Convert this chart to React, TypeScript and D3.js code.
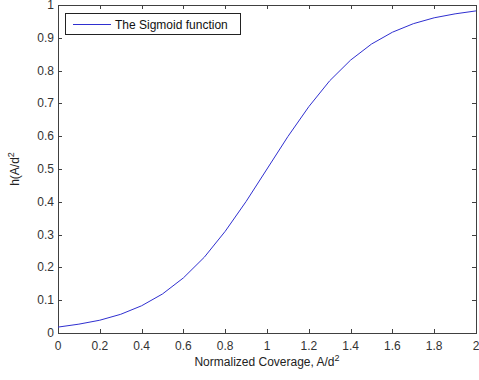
import { useEffect, useRef } from "react";
import * as d3 from "d3";

// values at 0.1 steps
const coverage = [0, 0.1, 0.2, 0.3, 0.4, 0.5, 0.6, 0.7, 0.8, 0.9, 1.0, 1.1, 1.2, 1.3, 1.4, 1.5, 1.6, 1.7, 1.8, 1.9, 2.0];
const hValues = [0.018, 0.027, 0.039, 0.057, 0.083, 0.119, 0.168, 0.231, 0.31, 0.401, 0.5, 0.599, 0.69, 0.769, 0.832, 0.881, 0.917, 0.943, 0.961, 0.973, 0.982];
const xTicks = [0, 0.2, 0.4, 0.6, 0.8, 1, 1.2, 1.4, 1.6, 1.8, 2];
const yTicks = [0, 0.1, 0.2, 0.3, 0.4, 0.5, 0.6, 0.7, 0.8, 0.9, 1];
const legendLabel = "The Sigmoid function";

function App() {
  const svgRef = useRef<SVGSVGElement>(null);

  useEffect(() => {
    document.body.style.margin = "0";
    const width = 479;
    const height = 380;
    const left = 58;
    const right = 476;
    const top = 5;
    const bottom = 333;
    const font = "'Liberation Sans', Arial, sans-serif";
    const lineColor = "#2f2fd0";
    const axisColor = "#404040";

    const svg = d3.select(svgRef.current);
    svg.selectAll("*").remove();
    svg.attr("width", width).attr("height", height).style("display", "block");

    svg.append("rect").attr("width", width).attr("height", height).attr("fill", "#fff");

    const x = d3.scaleLinear().domain([0, 2]).range([left, right]);
    const y = d3.scaleLinear().domain([0, 1]).range([bottom, top]);

    // box
    svg
      .append("rect")
      .attr("x", left + 0.5)
      .attr("y", top + 0.5)
      .attr("width", right - left)
      .attr("height", bottom - top)
      .attr("fill", "none")
      .attr("stroke", axisColor)
      .attr("stroke-width", 1);

    const tickLen = 4;
    const ticks = svg.append("g").attr("stroke", axisColor).attr("stroke-width", 1);
    xTicks.forEach((t) => {
      const px = Math.round(x(t)) + 0.5;
      ticks.append("line").attr("x1", px).attr("x2", px).attr("y1", bottom).attr("y2", bottom - tickLen);
      ticks.append("line").attr("x1", px).attr("x2", px).attr("y1", top).attr("y2", top + tickLen);
    });
    yTicks.forEach((t) => {
      const py = Math.round(y(t)) + 0.5;
      ticks.append("line").attr("x1", left).attr("x2", left + tickLen).attr("y1", py).attr("y2", py);
      ticks.append("line").attr("x1", right).attr("x2", right - tickLen).attr("y1", py).attr("y2", py);
    });

    svg
      .append("g")
      .selectAll("text")
      .data(xTicks)
      .join("text")
      .attr("x", (d) => x(d))
      .attr("y", bottom + 17)
      .attr("text-anchor", "middle")
      .attr("font-family", font)
      .attr("font-size", 12)
      .attr("fill", "#333")
      .text((d) => String(d));

    svg
      .append("g")
      .selectAll("text")
      .data(yTicks)
      .join("text")
      .attr("x", left - 4)
      .attr("y", (d) => y(d) + 4)
      .attr("text-anchor", "end")
      .attr("font-family", font)
      .attr("font-size", 12)
      .attr("fill", "#333")
      .text((d) => String(d));

    // curve
    const pts: [number, number][] = coverage.map((c, i) => [x(c), y(hValues[i])]);
    svg
      .append("path")
      .attr("d", d3.line()(pts))
      .attr("fill", "none")
      .attr("stroke", lineColor)
      .attr("stroke-width", 1);

    // axis labels
    const xl = svg
      .append("text")
      .attr("x", (left + right) / 2)
      .attr("y", 366)
      .attr("text-anchor", "middle")
      .attr("font-family", font)
      .attr("font-size", 12)
      .attr("fill", "#222");
    xl.append("tspan").text("Normalized Coverage, A/d");
    xl.append("tspan").attr("dy", -5).attr("font-size", 9).text("2");

    const yl = svg
      .append("text")
      .attr("transform", `translate(19, ${(top + bottom) / 2}) rotate(-90)`)
      .attr("text-anchor", "middle")
      .attr("font-family", font)
      .attr("font-size", 12)
      .attr("fill", "#222");
    yl.append("tspan").text("h(A/d");
    yl.append("tspan").attr("dy", -5).attr("font-size", 9).text("2");

    // legend
    const lg = svg.append("g");
    lg.append("rect")
      .attr("x", 65.5)
      .attr("y", 13.5)
      .attr("width", 175)
      .attr("height", 21)
      .attr("fill", "#fff")
      .attr("stroke", "#222");
    lg.append("line")
      .attr("x1", 73)
      .attr("x2", 111)
      .attr("y1", 24.5)
      .attr("y2", 24.5)
      .attr("stroke", lineColor);
    lg.append("text")
      .attr("x", 115)
      .attr("y", 28.5)
      .attr("font-family", font)
      .attr("font-size", 12)
      .attr("fill", "#111")
      .text(legendLabel);
  }, []);

  return <svg ref={svgRef}></svg>;
}

export default App;
